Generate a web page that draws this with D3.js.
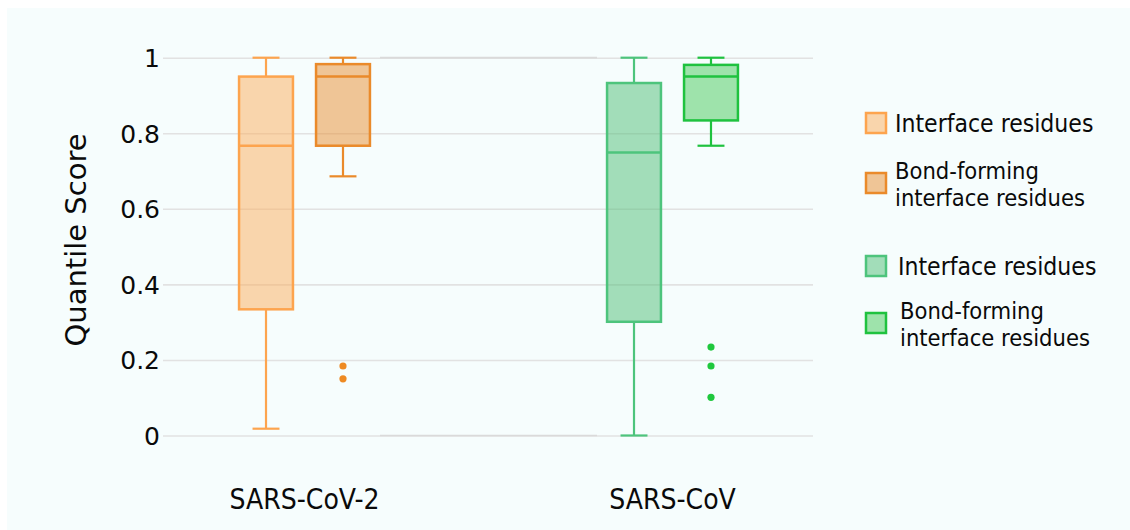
<!DOCTYPE html>
<html>
<head>
<meta charset="utf-8">
<script src="https://cdn.jsdelivr.net/npm/d3@7"></script>
<style>
  html, body { margin: 0; padding: 0; background: #ffffff; }
  svg { display: block; }
</style>
</head>
<body>
<svg id="chart" width="1130" height="530"></svg>
<script>
// Quantile score distributions for interface residues of two coronaviruses
const categories = ["SARS-CoV-2", "SARS-CoV"];
const seriesNames = ["Interface residues", "Bond-forming interface residues"];

// one entry per box
const boxCategory = ["SARS-CoV-2", "SARS-CoV-2", "SARS-CoV", "SARS-CoV"];
const boxSeries = ["Interface residues", "Bond-forming interface residues",
                   "Interface residues", "Bond-forming interface residues"];
const whiskerLow  = [0.018, 0.686, 0.000, 0.767];
const quartile1   = [0.334, 0.767, 0.301, 0.834];
const medianValue = [0.767, 0.950, 0.749, 0.950];
const quartile3   = [0.950, 0.983, 0.933, 0.981];
const whiskerHigh = [1.000, 1.000, 1.000, 1.000];
const outlierValues = [[], [0.184, 0.150], [], [0.234, 0.184, 0.101]];

const yTicks = [0, 0.2, 0.4, 0.6, 0.8, 1];
const yTitle = "Quantile Score";

// legend entries (two groups: orange, green)
const legendLines = [["Interface residues"], ["Bond-forming", "interface residues"],
                     ["Interface residues"], ["Bond-forming", "interface residues"]];

// box styling, in box order
const boxStroke = ["#fda44e", "#ea8a2a", "#4dc47c", "#1fc23f"];
const boxFill   = ["rgba(252,176,98,0.52)", "rgba(232,145,56,0.52)",
                   "rgba(78,190,118,0.5)", "rgba(52,196,70,0.45)"];
const dotFill   = ["#ee8a22", "#ee8a22", "#1fc83d", "#1fc83d"];

const svg = d3.select("#chart");
const W = 1130, H = 530;

// backdrop
svg.append("rect").attr("width", W).attr("height", H).attr("fill", "#ffffff");
svg.append("rect").attr("x", 7).attr("y", 8).attr("width", W - 7).attr("height", H - 8)
  .attr("fill", "#f6fdfd");

const gridLeft = 163, gridRight = 813;
const y = d3.scaleLinear().domain([0, 1]).range([435.5, 57.7]);

const x = d3.scaleBand().domain(categories).range([120.5, 856.5]).paddingInner(0);
const xInner = d3.scaleBand().domain(seriesNames).range([0, x.bandwidth()])
  .paddingInner(0.3).paddingOuter(1.54);

// gridlines + tick labels via axis
const yAxis = d3.axisLeft(y).tickValues(yTicks).tickFormat(d3.format("~g"))
  .tickSize(-(gridRight - gridLeft)).tickPadding(4);
const gAxis = svg.append("g").attr("transform", `translate(${gridLeft},0)`).call(yAxis);
gAxis.select(".domain").remove();
gAxis.selectAll(".tick line").attr("stroke", "#e2e2e2").attr("stroke-width", 1.6);
gAxis.selectAll(".tick text")
  .attr("font-family", "'DejaVu Sans', Verdana, sans-serif")
  .attr("font-size", 25).attr("fill", "#0a0a0a").attr("x", -3).attr("dy", "0.36em");

// slightly darker overlap on the outer gridlines between the two groups
svg.append("g").selectAll("line").data([0, 1]).join("line")
  .attr("x1", 380).attr("x2", 597)
  .attr("y1", d => y(d)).attr("y2", d => y(d))
  .attr("stroke", "#dadada").attr("stroke-width", 1.7);

// y title
svg.append("text")
  .attr("transform", `translate(86,240) rotate(-90)`)
  .attr("text-anchor", "middle")
  .attr("font-family", "'DejaVu Sans', Verdana, sans-serif")
  .attr("font-size", 29).attr("fill", "#0a0a0a")
  .text(yTitle);

// category labels
svg.append("g").selectAll("text").data(categories).join("text")
  .attr("x", d => x(d) + x.bandwidth() / 2)
  .attr("y", 509)
  .attr("text-anchor", "middle")
  .attr("font-family", "'DejaVu Sans Condensed', 'DejaVu Sans', sans-serif")
  .attr("font-stretch", "condensed")
  .attr("font-size", 28).attr("fill", "#0a0a0a")
  .text(d => d);

// boxes
const boxes = boxCategory.map((c, i) => ({
  i, c, s: boxSeries[i],
  lo: whiskerLow[i], q1: quartile1[i], med: medianValue[i], q3: quartile3[i], hi: whiskerHigh[i],
  out: outlierValues[i]
}));

const bw = xInner.bandwidth();
const gBox = svg.append("g").selectAll("g").data(boxes).join("g")
  .attr("transform", d => `translate(${x(d.c) + xInner(d.s)},0)`);

// whiskers
gBox.append("line")
  .attr("x1", bw / 2).attr("x2", bw / 2)
  .attr("y1", d => y(d.hi)).attr("y2", d => y(d.q3))
  .attr("stroke", d => boxStroke[d.i]).attr("stroke-width", 2.2);
gBox.append("line")
  .attr("x1", bw / 2).attr("x2", bw / 2)
  .attr("y1", d => y(d.q1)).attr("y2", d => y(d.lo))
  .attr("stroke", d => boxStroke[d.i]).attr("stroke-width", 2.2);
// whisker caps
gBox.selectAll("line.cap").data(d => [[d, d.hi], [d, d.lo]]).join("line")
  .attr("class", "cap")
  .attr("x1", bw / 4).attr("x2", bw * 3 / 4)
  .attr("y1", p => y(p[1])).attr("y2", p => y(p[1]))
  .attr("stroke", p => boxStroke[p[0].i]).attr("stroke-width", 2.2);

// box body
gBox.append("rect")
  .attr("x", 0).attr("width", bw)
  .attr("y", d => y(d.q3)).attr("height", d => y(d.q1) - y(d.q3))
  .attr("fill", d => boxFill[d.i])
  .attr("stroke", d => boxStroke[d.i]).attr("stroke-width", 2.5);
// median
gBox.append("line")
  .attr("x1", 0).attr("x2", bw)
  .attr("y1", d => y(d.med)).attr("y2", d => y(d.med))
  .attr("stroke", d => boxStroke[d.i]).attr("stroke-width", 2.5);

// outliers
gBox.selectAll("circle").data(d => d.out.map(v => [d, v])).join("circle")
  .attr("cx", bw / 2).attr("cy", p => y(p[1])).attr("r", 3.6)
  .attr("fill", p => dotFill[p[0].i]);

// legend
const legendY = [123, 183, 266, 323];
const legendTextX = [895, 895, 898, 900];
const legendLineGap = 27;
const legend = svg.append("g").selectAll("g").data(legendLines).join("g");
legend.append("rect")
  .attr("x", 866).attr("width", 20).attr("height", 20)
  .attr("y", (d, i) => legendY[i] - 10)
  .attr("fill", (d, i) => boxFill[i])
  .attr("stroke", (d, i) => boxStroke[i]).attr("stroke-width", 2.5);
legend.each(function (lines, i) {
  const g = d3.select(this);
  const n = lines.length;
  lines.forEach((line, k) => {
    g.append("text")
      .attr("font-family", "'DejaVu Sans Condensed', 'DejaVu Sans', sans-serif")
      .attr("font-stretch", "condensed")
      .attr("font-size", n > 1 ? 23.5 : 24.5).attr("fill", "#0a0a0a")
      .attr("x", legendTextX[i])
      .attr("y", legendY[i] + 9 + (k - (n - 1) / 2) * legendLineGap)
      .text(line);
  });
});
</script>
</body>
</html>
